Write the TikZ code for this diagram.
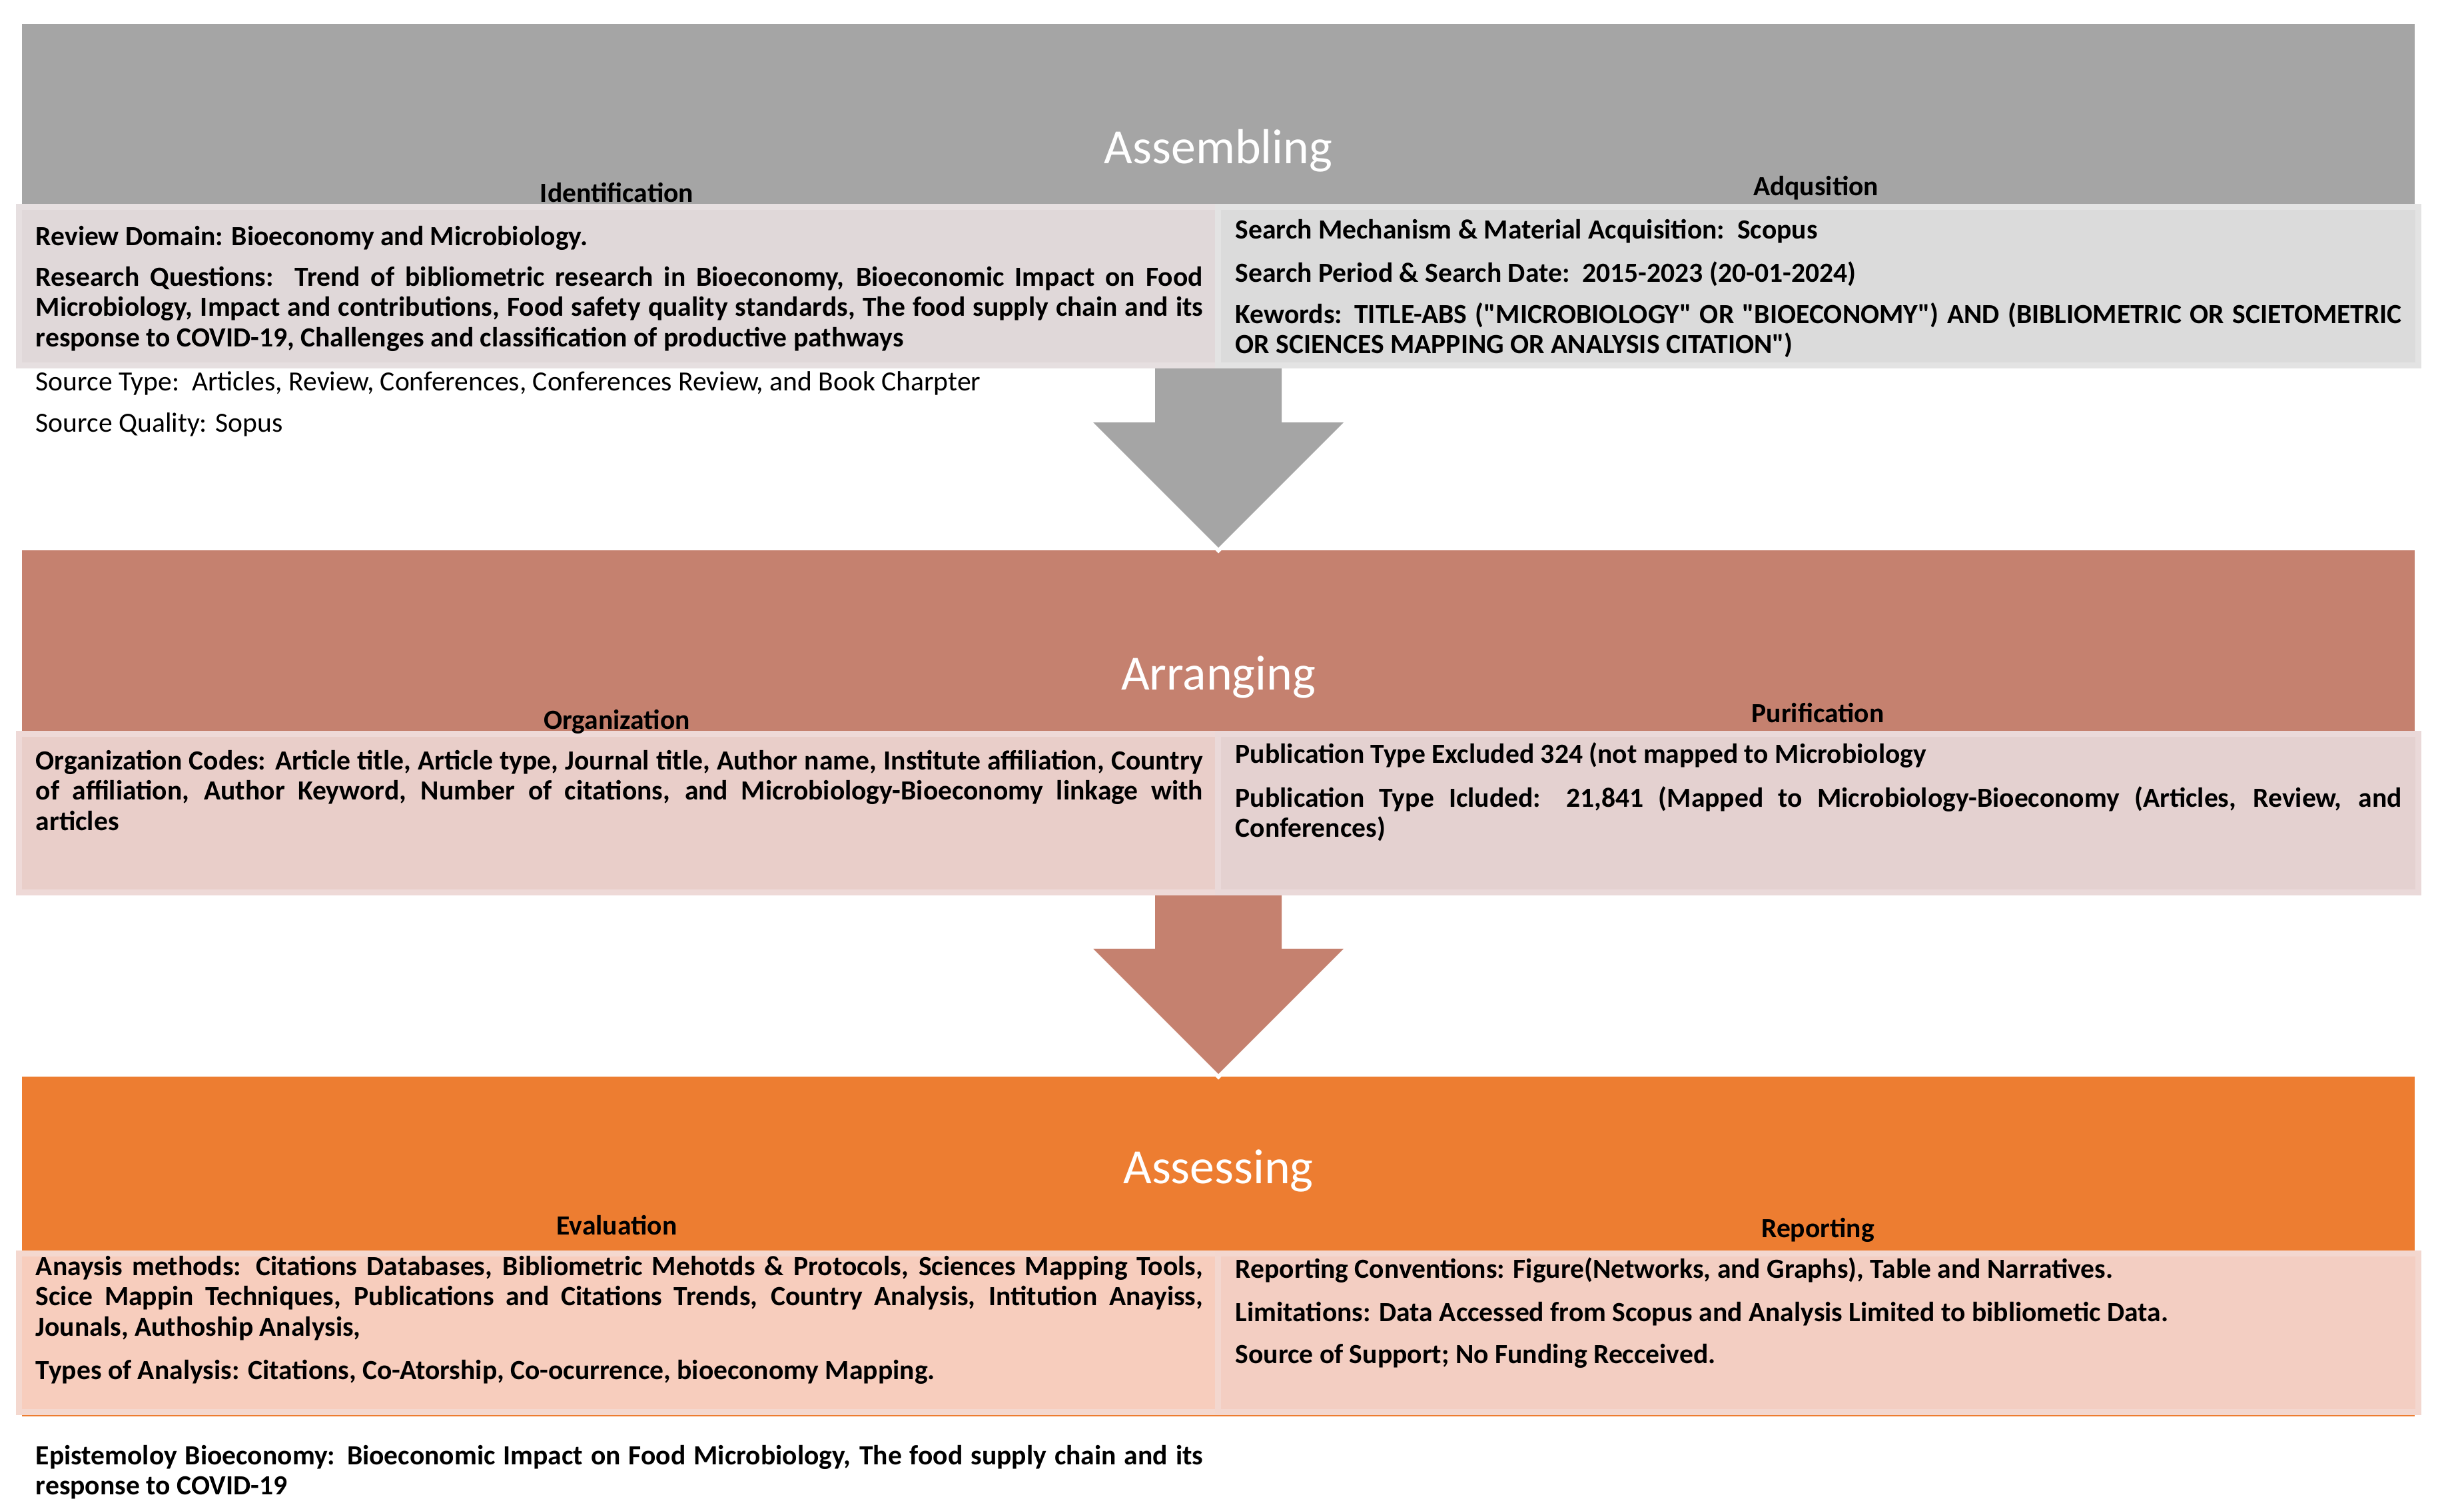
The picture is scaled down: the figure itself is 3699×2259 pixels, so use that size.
\documentclass[tikz,border=0pt]{standalone}
\usepackage{fontspec}
\setmainfont{Carlito}[Ligatures=TeXOff]
\usetikzlibrary{calc}
\definecolor{bandA}{HTML}{A5A5A5}
\definecolor{bandB}{HTML}{C5816F}
\definecolor{bandC}{HTML}{ED7D31}
\definecolor{pAin}{HTML}{E0D8D9}
\definecolor{pAout}{HTML}{E6DFE0}
\definecolor{pBin}{HTML}{DBDBDB}
\definecolor{pBout}{HTML}{E3E3E3}
\definecolor{pCin}{HTML}{E9CEC9}
\definecolor{pCout}{HTML}{EED9D7}
\definecolor{pDin}{HTML}{E4D1D0}
\definecolor{pDout}{HTML}{EAD9D9}
\definecolor{pEin}{HTML}{F7CDBD}
\definecolor{pEout}{HTML}{F4D8CF}
\definecolor{pFin}{HTML}{F3CEC2}
\definecolor{pFout}{HTML}{F3D7CF}
\tikzset{
  band/.style={anchor=north west, inner sep=0pt, outer sep=0pt, minimum width=898pt},
  panel/.style={line width=2.25pt},
  body/.style={anchor=base west, inner sep=0pt, font=\bfseries\fontsize{10.4}{11.4}\selectfont},
  plain/.style={anchor=base west, inner sep=0pt, font=\fontsize{10.4}{11.4}\selectfont},
  lab/.style={anchor=base, inner sep=0pt, font=\bfseries\fontsize{10.4}{11.4}\selectfont},
  ttl/.style={anchor=base, inner sep=0pt, text=white, font=\fontsize{18.45}{22}\selectfont},
  blockarrow/.style={preaction={draw=white, line width=3pt, line join=miter}},
}
\begin{document}
\begin{tikzpicture}[x=0.25pt,y=-0.25pt]
\useasboundingbox (0,0) rectangle (3699,2259);
\fill[white] (0,0) rectangle (3699,2259);

% bands
\node[band, fill=bandA, minimum height=129.25pt] (band1) at (33,36) {};
\node[band, fill=bandB, minimum height=129.5pt] (band2) at (33,826) {};
\node[band, fill=bandC, minimum height=127.5pt] (band3) at (33,1616) {};

% block arrows between bands
\coordinate (s1) at ($(band1.south)+(0,-8)$);
\coordinate (t1) at ($(band2.north)+(0,-4)$);
\coordinate (h1) at ($(t1)+(0,-188)$);
\fill[bandA, blockarrow] ($(s1)+(-95,0)$) -- ($(h1)+(-95,0)$) -- ($(h1)+(-188,0)$) -- (t1)
  -- ($(h1)+(188,0)$) -- ($(h1)+(95,0)$) -- ($(s1)+(95,0)$) -- cycle;
\coordinate (s2) at ($(band2.south)+(0,-8)$);
\coordinate (t2) at ($(band3.north)+(0,-4)$);
\coordinate (h2) at ($(t2)+(0,-188)$);
\fill[bandB, blockarrow] ($(s2)+(-95,0)$) -- ($(h2)+(-95,0)$) -- ($(h2)+(-188,0)$) -- (t2)
  -- ($(h2)+(188,0)$) -- ($(h2)+(95,0)$) -- ($(s2)+(95,0)$) -- cycle;

% panels
\filldraw[panel, fill=pAin, draw=pAout] (28.5,310.5) rectangle (1828.5,548.5);
\filldraw[panel, fill=pBin, draw=pBout] (1828.5,310.5) rectangle (3630.5,548.5);
\filldraw[panel, fill=pCin, draw=pCout] (28.5,1101.5) rectangle (1828.5,1339.5);
\filldraw[panel, fill=pDin, draw=pDout] (1828.5,1101.5) rectangle (3630.5,1339.5);
\filldraw[panel, fill=pEin, draw=pEout] (28.5,1881.5) rectangle (1828.5,2119.5);
\filldraw[panel, fill=pFin, draw=pFout] (1828.5,1881.5) rectangle (3630.5,2119.5);

% titles
\node[ttl] (ttl1) at (1829,245) {Assembling};
\node[ttl] (ttl2) at (1829,1035) {Arranging};
\node[ttl] (ttl3) at (1829,1776) {Assessing};

% labels
\node[lab] (lab1) at (926,303) {Identification};
\node[lab] (lab2) at (2726,293) {Adqusition};
\node[lab] (lab3) at (926,1094) {Organization};
\node[lab] (lab4) at (2729,1084) {Purification};
\node[lab] (lab5) at (926,1853) {Evaluation};
\node[lab] (lab6) at (2729,1857) {Reporting};

% band 1 texts
\node[body] (rd) at (53,368) {Review Domain: Bioeconomy and Microbiology.};
\node[body] (rq) at (53,429) {\parbox[t]{438pt}{Research Questions:\ \ Trend of bibliometric research in Bioeconomy, Bioeconomic Impact on Food\linebreak Microbiology, Impact and contributions, Food safety quality standards, The food supply chain and its\linebreak response to COVID-19, Challenges and classification of productive pathways}};
\node[plain] (st) at (53,586) {Source Type:\ \ Articles, Review, Conferences, Conferences Review, and Book Charpter};
\node[plain] (sq) at (53,648) {Source Quality: Sopus};
\node[body] (sm) at (1854,358) {Search Mechanism \& Material Acquisition:\ \ Scopus};
\node[body] (sp) at (1854,423) {Search Period \& Search Date:\ \ 2015-2023 (20-01-2024)};
\node[body] (kw) at (1854,485) {\parbox[t]{437.75pt}{Kewords: TITLE-ABS ("MICROBIOLOGY" OR "BIOECONOMY") AND (BIBLIOMETRIC OR SCIETOMETRIC\linebreak OR SCIENCES MAPPING OR ANALYSIS CITATION")}};

% band 2 texts
\node[body] (oc) at (53,1155) {\parbox[t]{438pt}{Organization Codes: Article title, Article type, Journal title, Author name, Institute affiliation, Country\linebreak of affiliation, Author Keyword, Number of citations, and Microbiology-Bioeconomy linkage with\linebreak articles}};
\node[body] (pe) at (1854,1145) {Publication Type Excluded 324 (not mapped to Microbiology};
\node[body] (pi) at (1854,1211) {\parbox[t]{437.75pt}{Publication Type Icluded: 21,841 (Mapped to Microbiology-Bioeconomy (Articles, Review, and\linebreak Conferences)}};

% band 3 texts
\node[body] (am) at (53,1914) {\parbox[t]{438pt}{Anaysis methods: Citations Databases, Bibliometric Mehotds \& Protocols, Sciences Mapping Tools,\linebreak Scice Mappin Techniques, Publications and Citations Trends, Country Analysis, Intitution Anayiss,\linebreak Jounals, Authoship Analysis,}};
\node[body] (ta) at (53,2070) {Types of Analysis: Citations, Co-Atorship, Co-ocurrence, bioeconomy Mapping.};
\node[body] (rc) at (1854,1918) {Reporting Conventions: Figure(Networks, and Graphs), Table and Narratives.};
\node[body] (li) at (1854,1983) {Limitations: Data Accessed from Scopus and Analysis Limited to bibliometic Data.};
\node[body] (ss) at (1854,2046) {Source of Support; No Funding Recceived.};
\node[body] (ep) at (53,2198) {\parbox[t]{438pt}{Epistemoloy Bioeconomy: Bioeconomic Impact on Food Microbiology, The food supply chain and its\linebreak response to COVID-19}};
\end{tikzpicture}
\end{document}
